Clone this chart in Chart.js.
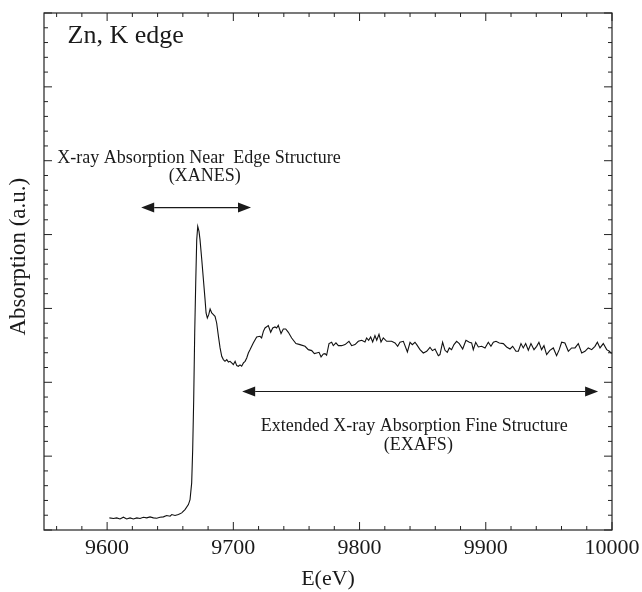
<!DOCTYPE html>
<html>
<head>
<meta charset="utf-8">
<script src="https://cdn.jsdelivr.net/npm/chart.js@4.4.1/dist/chart.umd.min.js"></script>
<style>
  html, body { margin: 0; padding: 0; background: #fff; }
  canvas { display: block; }
</style>
</head>
<body>
<canvas id="chart" width="642" height="592"></canvas>
<script>
// Zn K-edge absorption spectrum
const energy = [
  9601.8, 9605.0, 9607.6, 9610.2, 9612.9, 9615.5, 9618.2, 9620.8, 9623.5, 9626.1,
  9628.7, 9631.4, 9634.0, 9636.7, 9639.3, 9641.9, 9644.6, 9647.2, 9649.9, 9651.2,
  9653.8, 9656.5, 9659.1, 9661.7, 9664.4, 9665.7, 9667.0, 9667.8, 9668.6, 9669.4,
  9670.2, 9671.0, 9671.8, 9672.8, 9673.6, 9675.0, 9676.3, 9677.6, 9678.4, 9679.4,
  9680.5, 9681.6, 9682.9, 9684.2, 9685.5, 9686.8, 9688.2, 9689.5, 9690.8, 9692.1,
  9693.4, 9694.8, 9696.1, 9697.4, 9698.7, 9700.0, 9701.4, 9702.7, 9704.0, 9705.3,
  9706.6, 9708.0, 9709.3, 9710.6, 9711.9, 9713.2, 9715.8, 9718.5, 9721.1, 9722.4,
  9723.8, 9725.1, 9727.7, 9729.6, 9731.2, 9733.0, 9734.3, 9735.6, 9737.8, 9739.6,
  9741.5, 9743.6, 9746.2, 9749.6, 9752.8, 9756.8, 9759.4, 9762.1, 9764.2, 9766.0,
  9767.9, 9769.5, 9771.3, 9772.6, 9773.9, 9775.8, 9777.9, 9779.2, 9781.3, 9783.2,
  9785.8, 9788.5, 9791.6, 9793.7, 9796.4, 9799.0, 9801.7, 9804.3, 9805.6, 9807.2,
  9808.8, 9810.4, 9812.2, 9813.6, 9815.4, 9817.0, 9818.8, 9821.5, 9825.4, 9828.1,
  9830.2, 9832.0, 9834.7, 9837.9, 9840.0, 9841.8, 9843.9, 9845.3, 9847.9, 9850.5,
  9853.2, 9855.8, 9857.7, 9859.8, 9862.4, 9863.7, 9865.8, 9867.7, 9869.5, 9871.1,
  9872.9, 9874.8, 9876.9, 9879.0, 9881.7, 9884.3, 9887.0, 9888.8, 9890.1, 9892.0,
  9894.1, 9896.7, 9899.4, 9902.0, 9904.1, 9906.0, 9908.1, 9910.7, 9913.9, 9916.5,
  9919.2, 9921.3, 9923.9, 9925.8, 9927.9, 9929.7, 9931.6, 9933.7, 9935.8, 9938.2,
  9940.3, 9942.1, 9944.2, 9946.1, 9948.2, 9950.8, 9953.5, 9956.1, 9958.2, 9960.1,
  9962.7, 9965.4, 9968.0, 9970.7, 9973.3, 9976.0, 9978.6, 9981.2, 9983.9, 9986.5,
  9988.4, 9990.5, 9993.1, 9995.8, 9997.9, 9999.7
];
const absorption = [
  0.164, 0.155, 0.164, 0.150, 0.173, 0.150, 0.164, 0.150, 0.164, 0.155,
  0.173, 0.164, 0.178, 0.164, 0.160, 0.173, 0.178, 0.196, 0.187, 0.209,
  0.196, 0.209, 0.232, 0.277, 0.344, 0.412, 0.638, 1.089, 1.765, 2.668,
  3.344, 3.931, 4.111, 4.043, 3.931, 3.660, 3.389, 3.119, 2.938, 2.870,
  2.916, 2.992, 2.938, 2.916, 2.893, 2.803, 2.622, 2.465, 2.352, 2.307,
  2.284, 2.307, 2.275, 2.284, 2.262, 2.239, 2.284, 2.226, 2.217, 2.235,
  2.217, 2.262, 2.284, 2.329, 2.397, 2.440, 2.533, 2.614, 2.623, 2.600,
  2.690, 2.736, 2.767, 2.677, 2.736, 2.749, 2.736, 2.772, 2.659, 2.722,
  2.722, 2.677, 2.600, 2.524, 2.510, 2.487, 2.442, 2.429, 2.388, 2.397,
  2.406, 2.343, 2.384, 2.388, 2.366, 2.524, 2.542, 2.496, 2.533, 2.496,
  2.496, 2.510, 2.555, 2.496, 2.510, 2.555, 2.569, 2.546, 2.600, 2.569,
  2.614, 2.546, 2.632, 2.569, 2.650, 2.546, 2.600, 2.555, 2.555, 2.533,
  2.487, 2.542, 2.555, 2.411, 2.542, 2.510, 2.542, 2.510, 2.442, 2.397,
  2.420, 2.474, 2.429, 2.451, 2.361, 2.375, 2.542, 2.433, 2.406, 2.465,
  2.442, 2.510, 2.555, 2.524, 2.451, 2.569, 2.542, 2.533, 2.442, 2.542,
  2.478, 2.487, 2.465, 2.542, 2.487, 2.542, 2.555, 2.533, 2.524, 2.478,
  2.451, 2.487, 2.420, 2.420, 2.524, 2.465, 2.524, 2.433, 2.524, 2.442,
  2.487, 2.542, 2.442, 2.496, 2.375, 2.433, 2.465, 2.361, 2.442, 2.542,
  2.533, 2.420, 2.465, 2.465, 2.524, 2.397, 2.420, 2.465, 2.442, 2.487,
  2.542, 2.465, 2.524, 2.442, 2.420, 2.388
];
const xTicks = [9600, 9700, 9800, 9900, 10000];
const xRange = [9550, 10000];
const yRange = [0, 7];

// annotation text and arrows, in data units
const notes = [
  { text: 'Zn, K edge', x: 9568.7, y: 6.68, size: 26, align: 'left' },
  { text: 'X-ray Absorption Near  Edge Structure', x: 9672.8, y: 5.03, size: 18 },
  { text: '(XANES)', x: 9677.3, y: 4.79, size: 18 },
  { text: 'Extended X-ray Absorption Fine Structure', x: 9843.4, y: 1.40, size: 18 },
  { text: '(EXAFS)', x: 9846.6, y: 1.145, size: 18 }
];
const arrows = [
  { from: 9627, to: 9714, y: 4.365 },
  { from: 9707, to: 9989, y: 1.875 }
];
const yTitle = { text: 'Absorption (a.u.)', y: 3.70, size: 23 };

const FONT = '"Liberation Serif", "Times New Roman", serif';
const INK = '#1a1a1a';

// frame with inward ticks on all four sides
const frameTicks = {
  id: 'frameTicks',
  afterDatasetsDraw(chart) {
    const { ctx, chartArea: a, scales: { x, y } } = chart;
    ctx.save();
    ctx.strokeStyle = '#222';
    ctx.lineWidth = 1.2;
    ctx.strokeRect(a.left, a.top, a.right - a.left, a.bottom - a.top);
    ctx.lineWidth = 1;
    ctx.beginPath();
    for (let v = 9560; v <= xRange[1]; v += 20) {
      const px = x.getPixelForValue(v);
      const len = v % 100 === 0 ? 8 : 4;
      ctx.moveTo(px, a.bottom); ctx.lineTo(px, a.bottom - len);
      ctx.moveTo(px, a.top); ctx.lineTo(px, a.top + len);
    }
    for (let i = 0; i <= yRange[1] * 5; i++) {
      const py = y.getPixelForValue(i / 5);
      const len = i % 5 === 0 ? 8 : 4;
      ctx.moveTo(a.left, py); ctx.lineTo(a.left + len, py);
      ctx.moveTo(a.right, py); ctx.lineTo(a.right - len, py);
    }
    ctx.stroke();
    ctx.restore();
  }
};

const annotate = {
  id: 'annotate',
  afterDatasetsDraw(chart) {
    const { ctx, scales: { x, y } } = chart;
    ctx.save();
    ctx.fillStyle = INK;
    ctx.textBaseline = 'middle';
    notes.forEach(n => {
      ctx.font = n.size + 'px ' + FONT;
      ctx.textAlign = n.align || 'center';
      ctx.fillText(n.text, x.getPixelForValue(n.x), y.getPixelForValue(n.y));
    });

    // y axis title, sits a little above the middle in the original
    ctx.save();
    ctx.translate(y.left + 19, y.getPixelForValue(yTitle.y));
    ctx.rotate(-Math.PI / 2);
    ctx.font = yTitle.size + 'px ' + FONT;
    ctx.textAlign = 'center';
    ctx.fillText(yTitle.text, 0, 0);
    ctx.restore();

    ctx.strokeStyle = INK;
    ctx.lineWidth = 1.2;
    arrows.forEach(r => {
      const x1 = x.getPixelForValue(r.from), x2 = x.getPixelForValue(r.to);
      const py = y.getPixelForValue(r.y);
      const hl = 13, hw = 5;
      ctx.beginPath();
      ctx.moveTo(x1 + hl, py); ctx.lineTo(x2 - hl, py);
      ctx.stroke();
      ctx.beginPath();
      ctx.moveTo(x1, py); ctx.lineTo(x1 + hl, py - hw); ctx.lineTo(x1 + hl, py + hw); ctx.closePath();
      ctx.moveTo(x2, py); ctx.lineTo(x2 - hl, py - hw); ctx.lineTo(x2 - hl, py + hw); ctx.closePath();
      ctx.fill();
    });
    ctx.restore();
  }
};

new Chart(document.getElementById('chart'), {
  type: 'line',
  data: {
    datasets: [{
      data: energy.map((e, i) => ({ x: e, y: absorption[i] })),
      borderColor: '#111',
      borderWidth: 1.1,
      pointRadius: 0,
      tension: 0,
      fill: false
    }]
  },
  options: {
    responsive: false,
    animation: false,
    devicePixelRatio: 1,
    layout: { padding: { top: 13, right: 30, left: 0, bottom: 0 } },
    plugins: { legend: { display: false }, tooltip: { enabled: false } },
    scales: {
      x: {
        type: 'linear',
        min: xRange[0],
        max: xRange[1],
        afterBuildTicks: s => { s.ticks = xTicks.map(v => ({ value: v })); },
        afterFit: s => { s.height = 62; s.paddingRight = 28; },
        grid: { display: false, drawTicks: false },
        border: { display: false },
        ticks: {
          color: INK,
          font: { family: FONT, size: 22 },
          padding: 5,
          maxRotation: 0,
          autoSkip: false,
          callback: v => String(v)
        },
        title: {
          display: true,
          text: 'E(eV)',
          color: INK,
          font: { family: FONT, size: 22 },
          padding: { top: 0, bottom: 0 }
        }
      },
      y: {
        min: yRange[0],
        max: yRange[1],
        afterFit: s => { s.width = 44; },
        grid: { display: false, drawTicks: false },
        border: { display: false },
        ticks: { display: false, stepSize: 1 }
      }
    }
  },
  plugins: [frameTicks, annotate]
});
</script>
</body>
</html>
